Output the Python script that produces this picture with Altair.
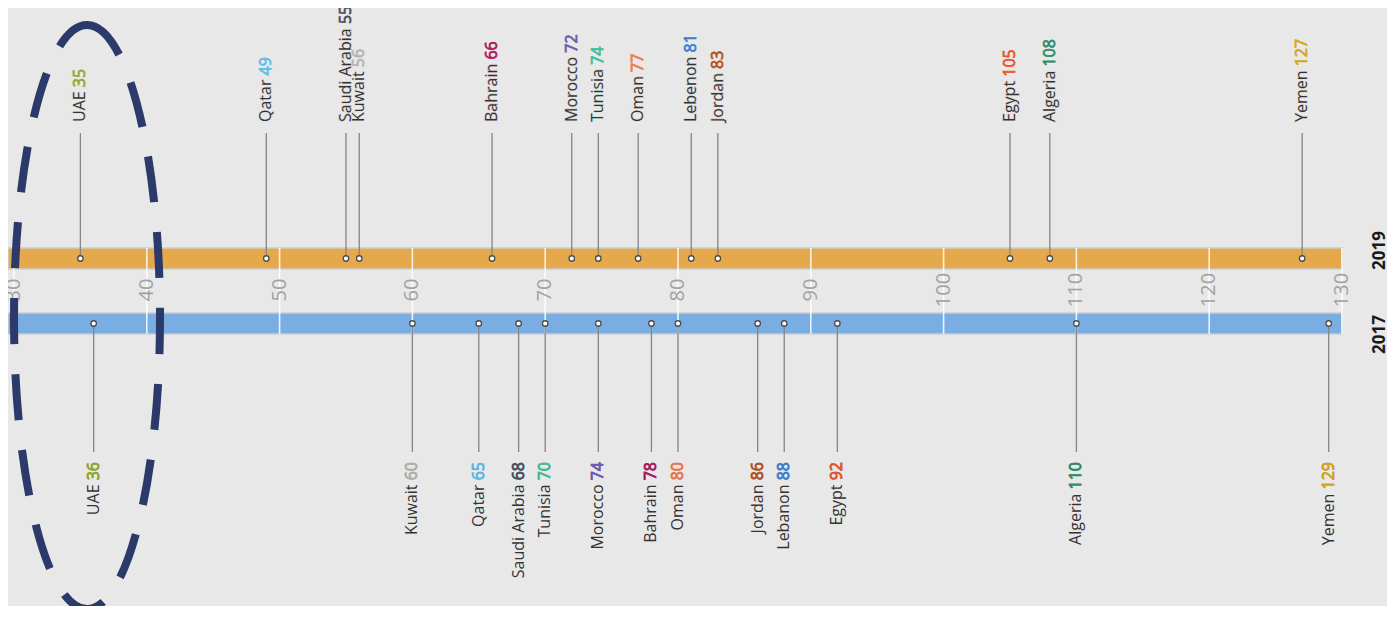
import altair as alt
import pandas as pd

# ---------------- data ----------------
countries_2019 = ["UAE", "Qatar", "Saudi Arabia", "Kuwait", "Bahrain", "Morocco", "Tunisia",
                  "Oman", "Lebenon", "Jordan", "Egypt", "Algeria", "Yemen"]
values_2019 = [35, 49, 55, 56, 66, 72, 74, 77, 81, 83, 105, 108, 127]

countries_2017 = ["UAE", "Kuwait", "Qatar", "Saudi Arabia", "Tunisia", "Morocco", "Bahrain",
                  "Oman", "Jordan", "Lebanon", "Egypt", "Algeria", "Yemen"]
values_2017 = [36, 60, 65, 68, 70, 74, 78, 80, 86, 88, 92, 110, 129]

country_colors = {
    "UAE": "#93a92f", "Qatar": "#5fbde8", "Saudi Arabia": "#48535e", "Kuwait": "#b3b3b3",
    "Bahrain": "#b0175f", "Morocco": "#6a5eb3", "Tunisia": "#3fbf9c", "Oman": "#f07a4c",
    "Lebenon": "#3f80d2", "Lebanon": "#3f80d2", "Jordan": "#b5531f", "Egypt": "#e8552a",
    "Algeria": "#2f8c69", "Yemen": "#d3a81d",
}

tick_values = [30, 40, 50, 60, 70, 80, 90, 100, 110, 120, 130]
years = ["2019", "2017"]
bar_colors = ["#e5a84a", "#7aaee3"]
highlight = "UAE"

# ---------------- tables ----------------
def make_df(countries, values):
    df = pd.DataFrame({"country": countries, "value": values})
    df["num"] = df["value"].astype(str)
    df["label"] = df["country"] + " " + df["num"]
    df["color"] = df["country"].map(country_colors)
    return df

df19 = make_df(countries_2019, values_2019)
df17 = make_df(countries_2017, values_2017)
ticks_df = pd.DataFrame({"tick": tick_values, "lab": [str(t) for t in tick_values]})
hl_center = (df19.loc[df19.country == highlight, "value"].iloc[0]
             + df17.loc[df17.country == highlight, "value"].iloc[0]) / 2

# ---------------- scale / layout ----------------
X_MIN, X_MAX = 29.55, tick_values[-1]
xs = alt.Scale(domain=[X_MIN, X_MAX], range=[0, 1334], nice=False, zero=False)
FONT = "Open Sans"
BG = "#e8e8e8"

Y19_TOP, Y19_BOT = 240, 261
Y17_TOP, Y17_BOT = 305, 326
Y19_MID = (Y19_TOP + Y19_BOT) / 2
Y17_MID = (Y17_TOP + Y17_BOT) / 2

base_one = alt.Chart(pd.DataFrame({"k": [0]}))

bar19 = base_one.mark_rect(color=bar_colors[0], stroke="#cdcdcd", strokeWidth=1.5).encode(
    x=alt.XDatum(X_MIN, scale=xs), x2=alt.X2Datum(X_MAX),
    y=alt.value(Y19_TOP), y2=alt.value(Y19_BOT))
bar17 = base_one.mark_rect(color=bar_colors[1], stroke="#cdcdcd", strokeWidth=1.5).encode(
    x=alt.XDatum(X_MIN, scale=xs), x2=alt.X2Datum(X_MAX),
    y=alt.value(Y17_TOP), y2=alt.value(Y17_BOT))

grid = alt.Chart(ticks_df).mark_rule(color="#ffffff", strokeWidth=1.6, opacity=0.85).encode(
    x=alt.X("tick:Q", scale=xs), y=alt.value(Y19_TOP), y2=alt.value(Y17_BOT))

tick_labels = alt.Chart(ticks_df).mark_text(
    angle=270, align="center", baseline="middle", fontSize=20, font=FONT, color="#a2a2a2"
).encode(x=alt.X("tick:Q", scale=xs), y=alt.value(282), text="lab:N")

LINE = "#858585"
conn19 = alt.Chart(df19).mark_rule(color=LINE, strokeWidth=1.3).encode(
    x=alt.X("value:Q", scale=xs), y=alt.value(125), y2=alt.value(Y19_MID))
conn17 = alt.Chart(df17).mark_rule(color=LINE, strokeWidth=1.3).encode(
    x=alt.X("value:Q", scale=xs), y=alt.value(Y17_MID), y2=alt.value(444))

dots19 = alt.Chart(df19).mark_circle(color="#ffffff", stroke="#4d4d4d", strokeWidth=1.3,
                                     size=30, opacity=1).encode(
    x=alt.X("value:Q", scale=xs), y=alt.value(Y19_MID))
dots17 = alt.Chart(df17).mark_circle(color="#ffffff", stroke="#4d4d4d", strokeWidth=1.3,
                                     size=30, opacity=1).encode(
    x=alt.X("value:Q", scale=xs), y=alt.value(Y17_MID))

NAME = "#333333"
BOLD_W = 0.75
txt = dict(angle=270, baseline="middle", fontSize=16, font=FONT)
# 2019 labels (start aligned above the connector): coloured full label (emboldened),
# then the name part erased and redrawn in dark grey
top_full = alt.Chart(df19).mark_text(align="left", strokeWidth=BOLD_W, **txt).encode(
    x=alt.X("value:Q", scale=xs), y=alt.value(114), text="label:N",
    color=alt.Color("color:N", scale=None), stroke=alt.Stroke("color:N", scale=None))
top_erase = alt.Chart(df19).mark_text(align="left", color=BG, stroke=BG, strokeWidth=1.2,
                                      **txt).encode(
    x=alt.X("value:Q", scale=xs), y=alt.value(114), text="country:N")
top_name = alt.Chart(df19).mark_text(align="left", color=NAME, **txt).encode(
    x=alt.X("value:Q", scale=xs), y=alt.value(114), text="country:N")
# 2017 labels (end aligned below the connector)
bot_full = alt.Chart(df17).mark_text(align="right", color=NAME, **txt).encode(
    x=alt.X("value:Q", scale=xs), y=alt.value(454), text="label:N")
bot_num = alt.Chart(df17).mark_text(align="right", strokeWidth=BOLD_W, **txt).encode(
    x=alt.X("value:Q", scale=xs), y=alt.value(454), text="num:N",
    color=alt.Color("color:N", scale=None), stroke=alt.Stroke("color:N", scale=None))

years_df = pd.DataFrame({"year": years})
year19 = alt.Chart(years_df.iloc[[0]]).mark_text(
    angle=270, align="left", baseline="middle", fontSize=17, fontWeight="bold",
    font=FONT, color="#1a1a1a").encode(x=alt.value(1372), y=alt.value(Y19_BOT + 1), text="year:N")
year17 = alt.Chart(years_df.iloc[[1]]).mark_text(
    angle=270, align="right", baseline="middle", fontSize=17, fontWeight="bold",
    font=FONT, color="#1a1a1a").encode(x=alt.value(1372), y=alt.value(Y17_TOP + 2), text="year:N")

# dashed ellipse around the highlighted country
k = 0.5523
rx = 0.25
cx = rx * k
ellipse_path = (f"M0,-1 C{cx:.4f},-1 {rx},-{k} {rx},0 C{rx},{k} {cx:.4f},1 0,1 "
                f"C-{cx:.4f},1 -{rx},{k} -{rx},0 C-{rx},-{k} -{cx:.4f},-1 0,-1 Z")
ellipse = base_one.mark_point(shape=ellipse_path, filled=False, color="#2c396b",
                              strokeWidth=8, strokeDash=[46, 30], size=584 * 584,
                              opacity=1).encode(
    x=alt.XDatum(hl_center, scale=xs), y=alt.value(309))

chart = alt.layer(
    bar19, bar17, grid, tick_labels, conn19, conn17, dots19, dots17,
    top_full, top_erase, top_name, bot_full, bot_num, year19, year17, ellipse
).properties(
    width=1379, height=598, padding=0,
    autosize=alt.AutoSizeParams(type="none"),
    background=BG,
).configure_view(strokeWidth=0)

chart.save("out.html", embed_options={"renderer": "svg", "actions": False})
